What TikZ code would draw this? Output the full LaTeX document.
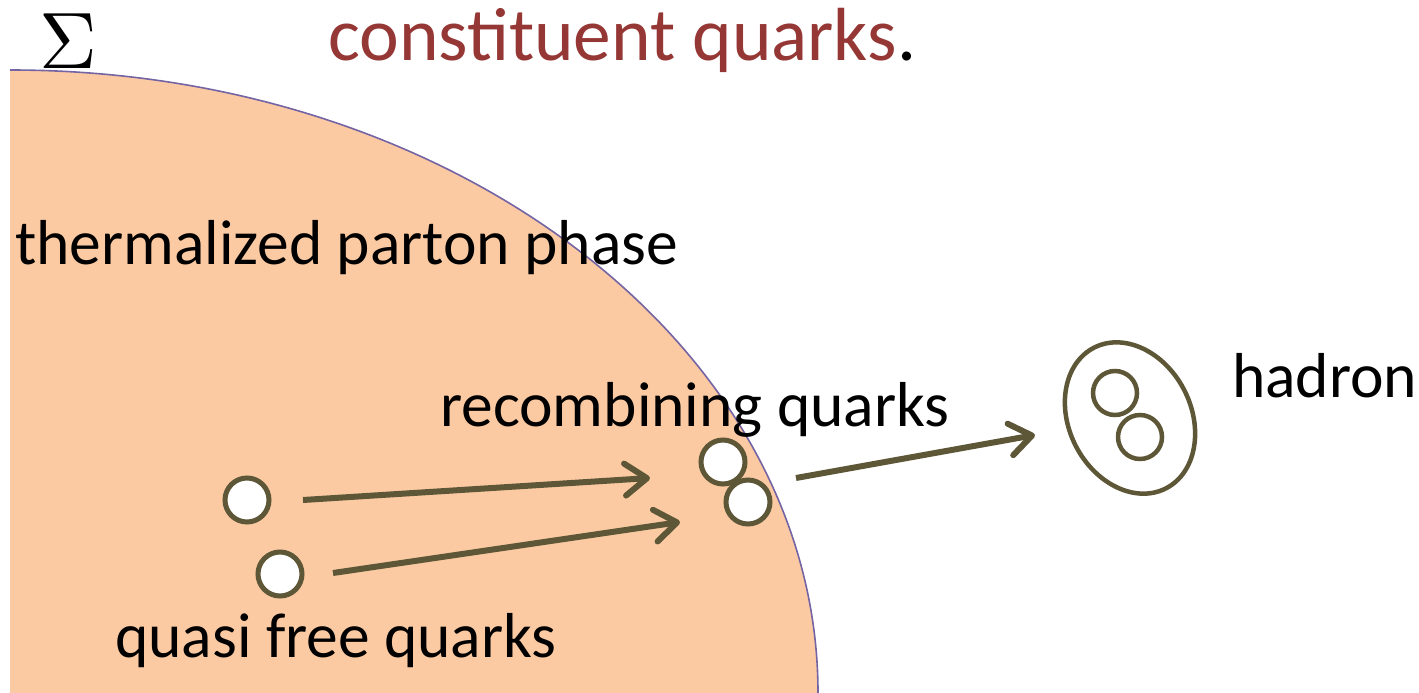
\documentclass[tikz,border=0pt]{standalone}
\usepackage{fontspec}
\setmainfont{Carlito}
\usetikzlibrary{arrows.meta,shapes.geometric}
\definecolor{peach}{HTML}{FBCAA2}
\definecolor{edgepurple}{HTML}{7464A4}
\definecolor{olive}{HTML}{5E5737}
\definecolor{titlered}{HTML}{953735}
\tikzset{
  quark/.style={circle, draw=olive, fill=white, line width=5pt, minimum size=44pt, inner sep=0pt},
  hquark/.style={circle, draw=olive, line width=4.5pt, minimum size=44pt, inner sep=0pt},
  flow/.style={draw=olive, line width=6pt, -{Straight Barb[length=22pt,width=32pt,round]}},
  lbl/.style={anchor=base west, inner sep=0pt, font=\fontsize{63.5}{70}\selectfont},
}
\begin{document}
\begin{tikzpicture}[x=1pt,y=-1pt]
\useasboundingbox (0,0) rectangle (1419,693);
% parton phase region
\fill[peach] (10,693) -- (10,70) arc[start angle=90, end angle=0, x radius=808pt, y radius=623pt] -- cycle;
\draw[edgepurple, line width=1.6pt] (10,70) arc[start angle=90, end angle=0, x radius=808pt, y radius=623pt];
% texts
\node[anchor=base, inner sep=0pt, scale=8] (sigma) at (68,69) {$\Sigma$};
\node[lbl, font=\fontsize{75.3}{80}\selectfont, text=titlered] (title) at (328,61) {constituent quarks\textcolor{black}{.}};
\node[lbl] (therm) at (15,264) {thermalized parton phase};
\node[lbl] (recomb) at (440,426) {recombining quarks};
\node[lbl] (qfree) at (115,657) {quasi free quarks};
\node[lbl] (hadlbl) at (1232,397) {hadron};
% quarks
\node[quark] (q1) at (247,500) {};
\node[quark] (q2) at (280,574) {};
\node[quark] (r1) at (723,462) {};
\node[quark] (r2) at (748,502) {};
% hadron
\node[ellipse, draw=olive, line width=4.5pt, minimum width=158pt, minimum height=122pt, rotate=-63] (had) at (1130,418) {};
\node[hquark] (h1) at (1115,393) {};
\node[hquark] (h2) at (1140,437) {};
% arrows
\coordinate (a1s) at (303,500);
\coordinate (a1e) at (650,478);
\coordinate (a2s) at (333,573);
\coordinate (a2e) at (680,522);
\coordinate (a3s) at (796,478);
\coordinate (a3e) at (1035,435);
\draw[flow] (a1s) -- (a1e);
\draw[flow] (a2s) -- (a2e);
\draw[flow] (a3s) -- (a3e);
\end{tikzpicture}
\end{document}
